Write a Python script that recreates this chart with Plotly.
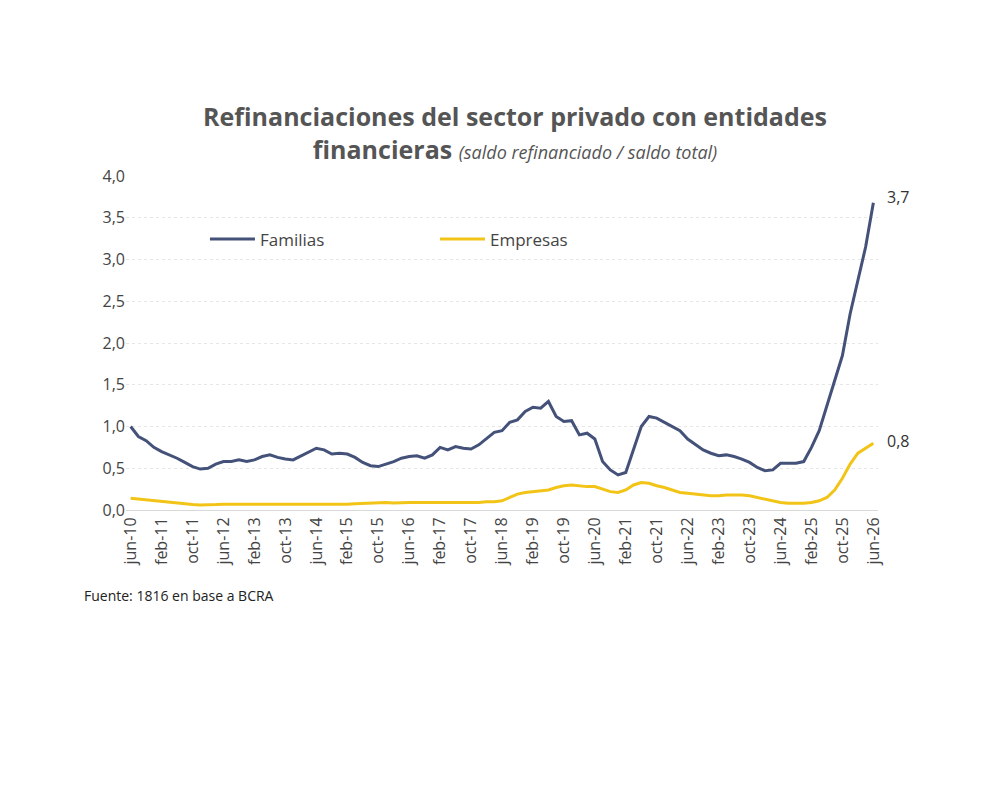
import plotly.graph_objects as go

fechas = []
for y in range(10, 27):
    for m in ["feb","abr","jun","ago","oct","dic"]:
        lab = f"{m}-{y:02d}"
        if y == 10 and m in ("feb","abr"):
            continue
        if y == 26 and m in ("ago","oct","dic"):
            continue
        fechas.append(lab)

familias = [1.0,0.88,0.83,0.75,
 0.70,0.66,0.62,0.57,0.52,0.49,
 0.50,0.55,0.58,0.58,0.60,0.58,
 0.60,0.64,0.66,0.63,0.61,0.60,
 0.65,0.70,0.74,0.72,0.67,0.68,
 0.67,0.63,0.57,0.53,0.52,0.55,
 0.58,0.62,0.64,0.65,0.62,0.66,
 0.75,0.72,0.76,0.74,0.73,0.78,
 0.86,0.93,0.95,1.05,1.08,1.18,
 1.23,1.22,1.30,1.12,1.06,1.07,
 0.90,0.92,0.85,0.58,0.48,0.42,
 0.45,0.72,1.00,1.12,1.10,1.05,
 1.00,0.95,0.85,0.78,0.72,0.68,
 0.65,0.66,0.64,0.61,0.57,0.51,
 0.47,0.48,0.56,0.56,0.56,0.58,
 0.75,0.95,1.25,1.55,1.85,2.35,
 2.75,3.15,3.68]
empresas = [0.14,0.13,0.12,0.11,
 0.10,0.09,0.08,0.07,0.065,0.06,
 0.06,0.065,0.07,0.07,0.07,0.07,
 0.07,0.065,0.065,0.07,0.07,0.07,
 0.07,0.07,0.07,0.07,0.07,0.07,
 0.07,0.075,0.08,0.085,0.09,0.09,
 0.085,0.09,0.09,0.09,0.09,0.09,
 0.09,0.09,0.09,0.09,0.09,0.09,
 0.10,0.10,0.11,0.15,0.19,0.21,
 0.22,0.23,0.24,0.27,0.29,0.30,
 0.29,0.28,0.28,0.25,0.22,0.21,
 0.24,0.30,0.33,0.32,0.29,0.27,
 0.24,0.21,0.20,0.19,0.18,0.17,
 0.17,0.18,0.18,0.18,0.17,0.15,
 0.13,0.11,0.09,0.08,0.08,0.08,
 0.09,0.11,0.15,0.24,0.38,0.55,
 0.68,0.74,0.80]
ticks_x = fechas[::4]
ticks_y = [0,0.5,1,1.5,2,2.5,3,3.5,4]

AZUL = "#44527a"; AMAR = "#f2c417"
fig = go.Figure()
fig.add_trace(go.Scatter(x=fechas, y=familias, name="Familias", mode="lines",
                         line=dict(color=AZUL, width=3)))
fig.add_trace(go.Scatter(x=fechas, y=empresas, name="Empresas", mode="lines",
                         line=dict(color=AMAR, width=3)))
fig.add_annotation(x=fechas[-1], y=familias[-1], text="3,7", showarrow=False,
                   xanchor="left", xshift=12, yshift=6, font=dict(size=16, color="#333"))
fig.add_annotation(x=fechas[-1], y=empresas[-1], text="0,8", showarrow=False,
                   xanchor="left", xshift=12, yshift=2, font=dict(size=16, color="#333"))
fig.add_annotation(xref="paper", yref="paper", x=-0.058, y=-0.29, text="Fuente: 1816 en base a BCRA",
                   showarrow=False, xanchor="left", font=dict(size=14, color="#222"))
fig.update_layout(
    width=1004, height=789, paper_bgcolor="white", plot_bgcolor="white",
    font=dict(family="Open Sans, DejaVu Sans", color="#444"),
    separators=",.",
    title=dict(text="<b>Refinanciaciones del sector privado con entidades<br>financieras</b> <i><span style='font-size:18px'>(saldo refinanciado / saldo total)</span></i>",
               x=0.505, xanchor="center", y=0.85, font=dict(size=25, color="#555"), yanchor="middle"),
    margin=dict(l=118, r=134, t=168, b=287),
    showlegend=True,
    legend=dict(orientation="h", x=0.105, y=0.81, xanchor="left", yanchor="middle",
                font=dict(size=17, color="#444"), bgcolor="rgba(0,0,0,0)",
                itemwidth=45, entrywidth=170),
    xaxis=dict(type="category", tickvals=ticks_x, ticktext=ticks_x, tickangle=-90,
               showgrid=False, showline=True, linecolor="#d9d9d9", ticks="",
               tickfont=dict(size=16, color="#444"), range=[-0.6, len(fechas)-0.4]),
    yaxis=dict(range=[0, 4], tickvals=ticks_y, tickformat=".1f", showgrid=True,
               gridcolor="#e6e6e6", griddash="dot", zeroline=False,
               tickfont=dict(size=16, color="#444")),
)
fig.write_html("out.html")
